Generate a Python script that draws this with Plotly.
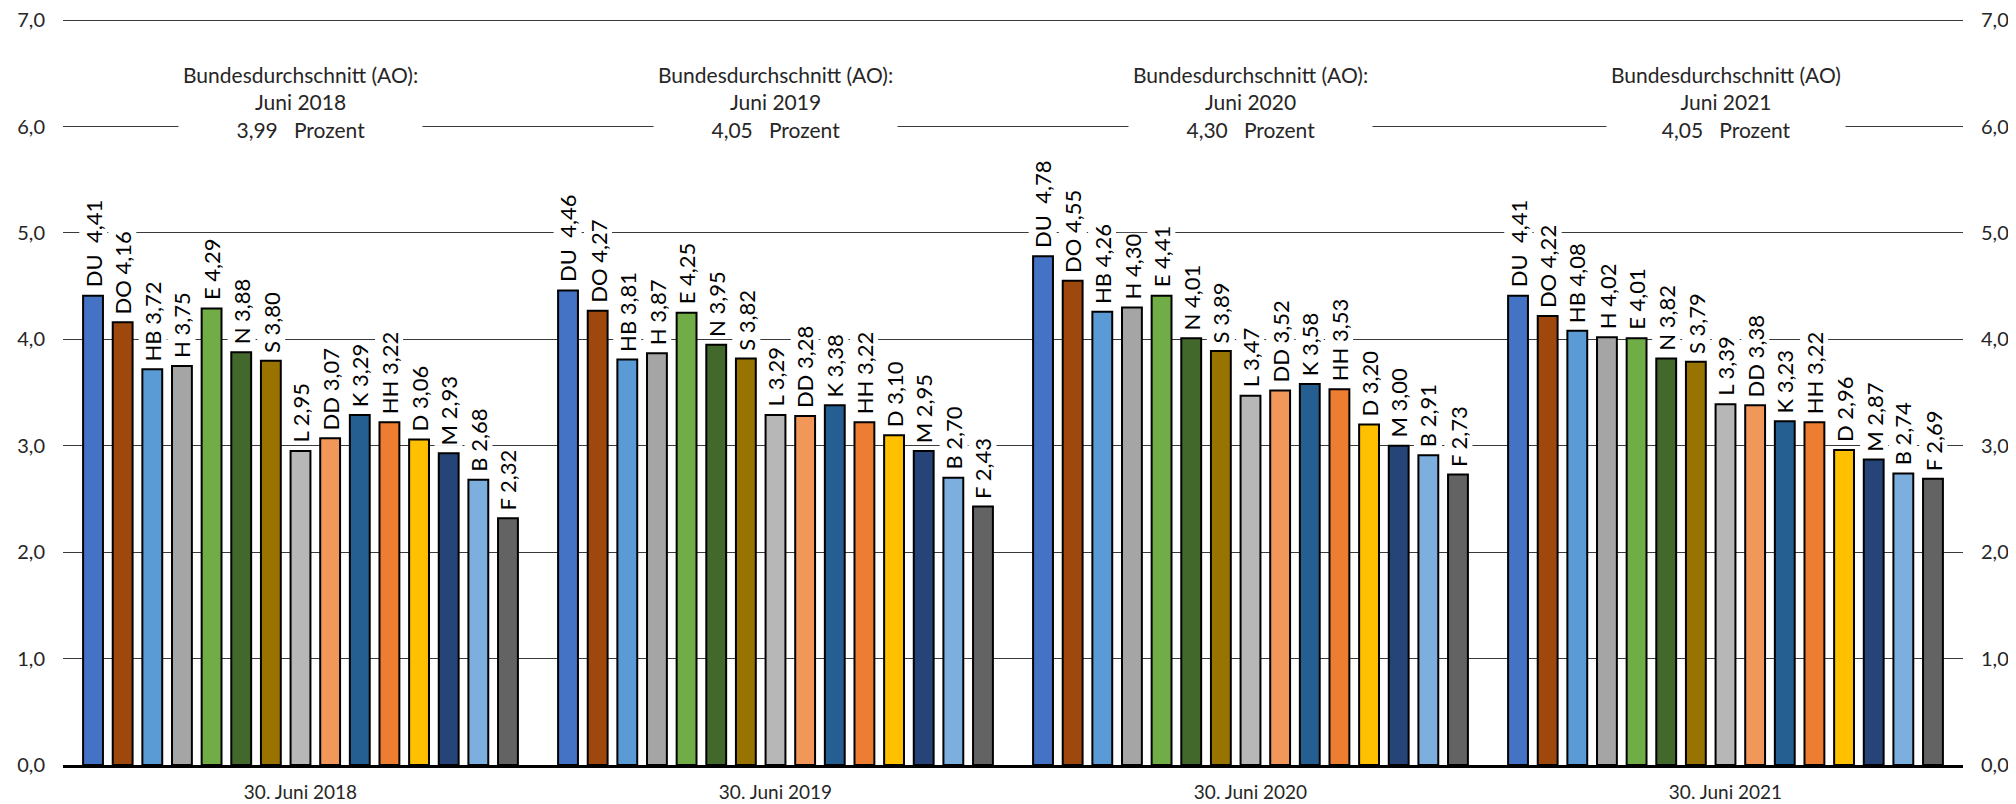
import plotly.graph_objects as go

categories = ["30. Juni 2018", "30. Juni 2019", "30. Juni 2020", "30. Juni 2021"]
cities = ["DU", "DO", "HB", "H", "E", "N", "S", "L", "DD", "K", "HH", "D", "M", "B", "F"]
colors = ["#4472C4", "#9E480E", "#5B9BD5", "#A5A5A5", "#70AD47", "#43682B", "#997300",
          "#B7B7B7", "#F1975A", "#255E91", "#ED7D31", "#FFC000", "#264478", "#7CAFDD", "#636363"]

v2018 = [4.41, 4.16, 3.72, 3.75, 4.29, 3.88, 3.80, 2.95, 3.07, 3.29, 3.22, 3.06, 2.93, 2.68, 2.32]
v2019 = [4.46, 4.27, 3.81, 3.87, 4.25, 3.95, 3.82, 3.29, 3.28, 3.38, 3.22, 3.10, 2.95, 2.70, 2.43]
v2020 = [4.78, 4.55, 4.26, 4.30, 4.41, 4.01, 3.89, 3.47, 3.52, 3.58, 3.53, 3.20, 3.00, 2.91, 2.73]
v2021 = [4.41, 4.22, 4.08, 4.02, 4.01, 3.82, 3.79, 3.39, 3.38, 3.23, 3.22, 2.96, 2.87, 2.74, 2.69]

avg_values = [3.99, 4.05, 4.30, 4.05]
avg_titles = ["Bundesdurchschnitt (AO):", "Bundesdurchschnitt (AO):",
              "Bundesdurchschnitt (AO):", "Bundesdurchschnitt (AO)"]
avg_months = ["Juni 2018", "Juni 2019", "Juni 2020", "Juni 2021"]

years = [v2018, v2019, v2020, v2021]

FONT = "Lato"
BARGAP = 0.064
BARGROUPGAP = 0.33
n = len(cities)
slot = (1 - BARGAP) / n


def fmt(v, d=2):
    return f"{v:.{d}f}".replace(".", ",")


fig = go.Figure()
for i, c in enumerate(cities):
    fig.add_trace(go.Bar(
        x=categories,
        y=[yr[i] for yr in years],
        name=c,
        marker=dict(color=colors[i], line=dict(color="black", width=2)),
        hoverinfo="name+y",
    ))

# invisible trace to activate the right axis
fig.add_trace(go.Scatter(x=categories, y=avg_values, yaxis="y2", mode="markers",
                         marker=dict(opacity=0), showlegend=False, hoverinfo="skip"))

annotations = []
for g, yr in enumerate(years):
    for i, c in enumerate(cities):
        sep = "  " if c == "DU" else " "
        annotations.append(dict(
            x=g - (1 - BARGAP) / 2 + slot * (i + 0.5), y=yr[i], xref="x", yref="y",
            text=f"{c}{sep}{fmt(yr[i])}", textangle=-90, showarrow=False,
            xanchor="center", yanchor="bottom", yshift=7,
            bgcolor="white", borderpad=0,
            font=dict(family=FONT, size=22, color="black"),
        ))
    annotations.append(dict(
        x=g, y=6.23, xref="x", yref="y",
        text=f"{avg_titles[g]}<br>{avg_months[g]}<br>{fmt(avg_values[g])}   Prozent",
        showarrow=False, xanchor="center", yanchor="middle", align="center",
        bgcolor="white", borderpad=4,
        font=dict(family=FONT, size=21, color="#262626"),
    ))

# page body has an 8px margin: figure is sized/offset to compensate
fig.update_layout(
    width=2008, height=796,
    margin=dict(l=55, r=53, t=10, b=39),
    paper_bgcolor="white", plot_bgcolor="white",
    barmode="group", bargap=BARGAP, bargroupgap=BARGROUPGAP,
    showlegend=False,
    separators=",.",
    font=dict(family=FONT, size=20, color="#262626"),
    annotations=annotations,
    xaxis=dict(showline=True, linecolor="black", linewidth=3, ticks="", automargin=False,
               tickfont=dict(size=19, color="#262626"), ticklabelstandoff=8,
               showgrid=False, zeroline=False),
    yaxis=dict(range=[0, 7.02], tickvals=[0, 1, 2, 3, 4, 5, 6, 7], tickformat=".1f",
               showgrid=True, gridcolor="#3a3a3a", gridwidth=1.3, zeroline=False,
               ticks="", showline=False, ticklabelstandoff=17, ticklabeloverflow="allow",
               automargin=False, tickfont=dict(size=20, color="#262626")),
    yaxis2=dict(range=[0, 7.02], tickvals=[0, 1, 2, 3, 4, 5, 6, 7], tickformat=".1f",
                overlaying="y", side="right", showgrid=False, zeroline=False, ticks="",
                showline=False, ticklabelstandoff=17, ticklabeloverflow="allow",
                automargin=False, tickfont=dict(size=20, color="#262626")),
)

fig.write_html("out.html")
